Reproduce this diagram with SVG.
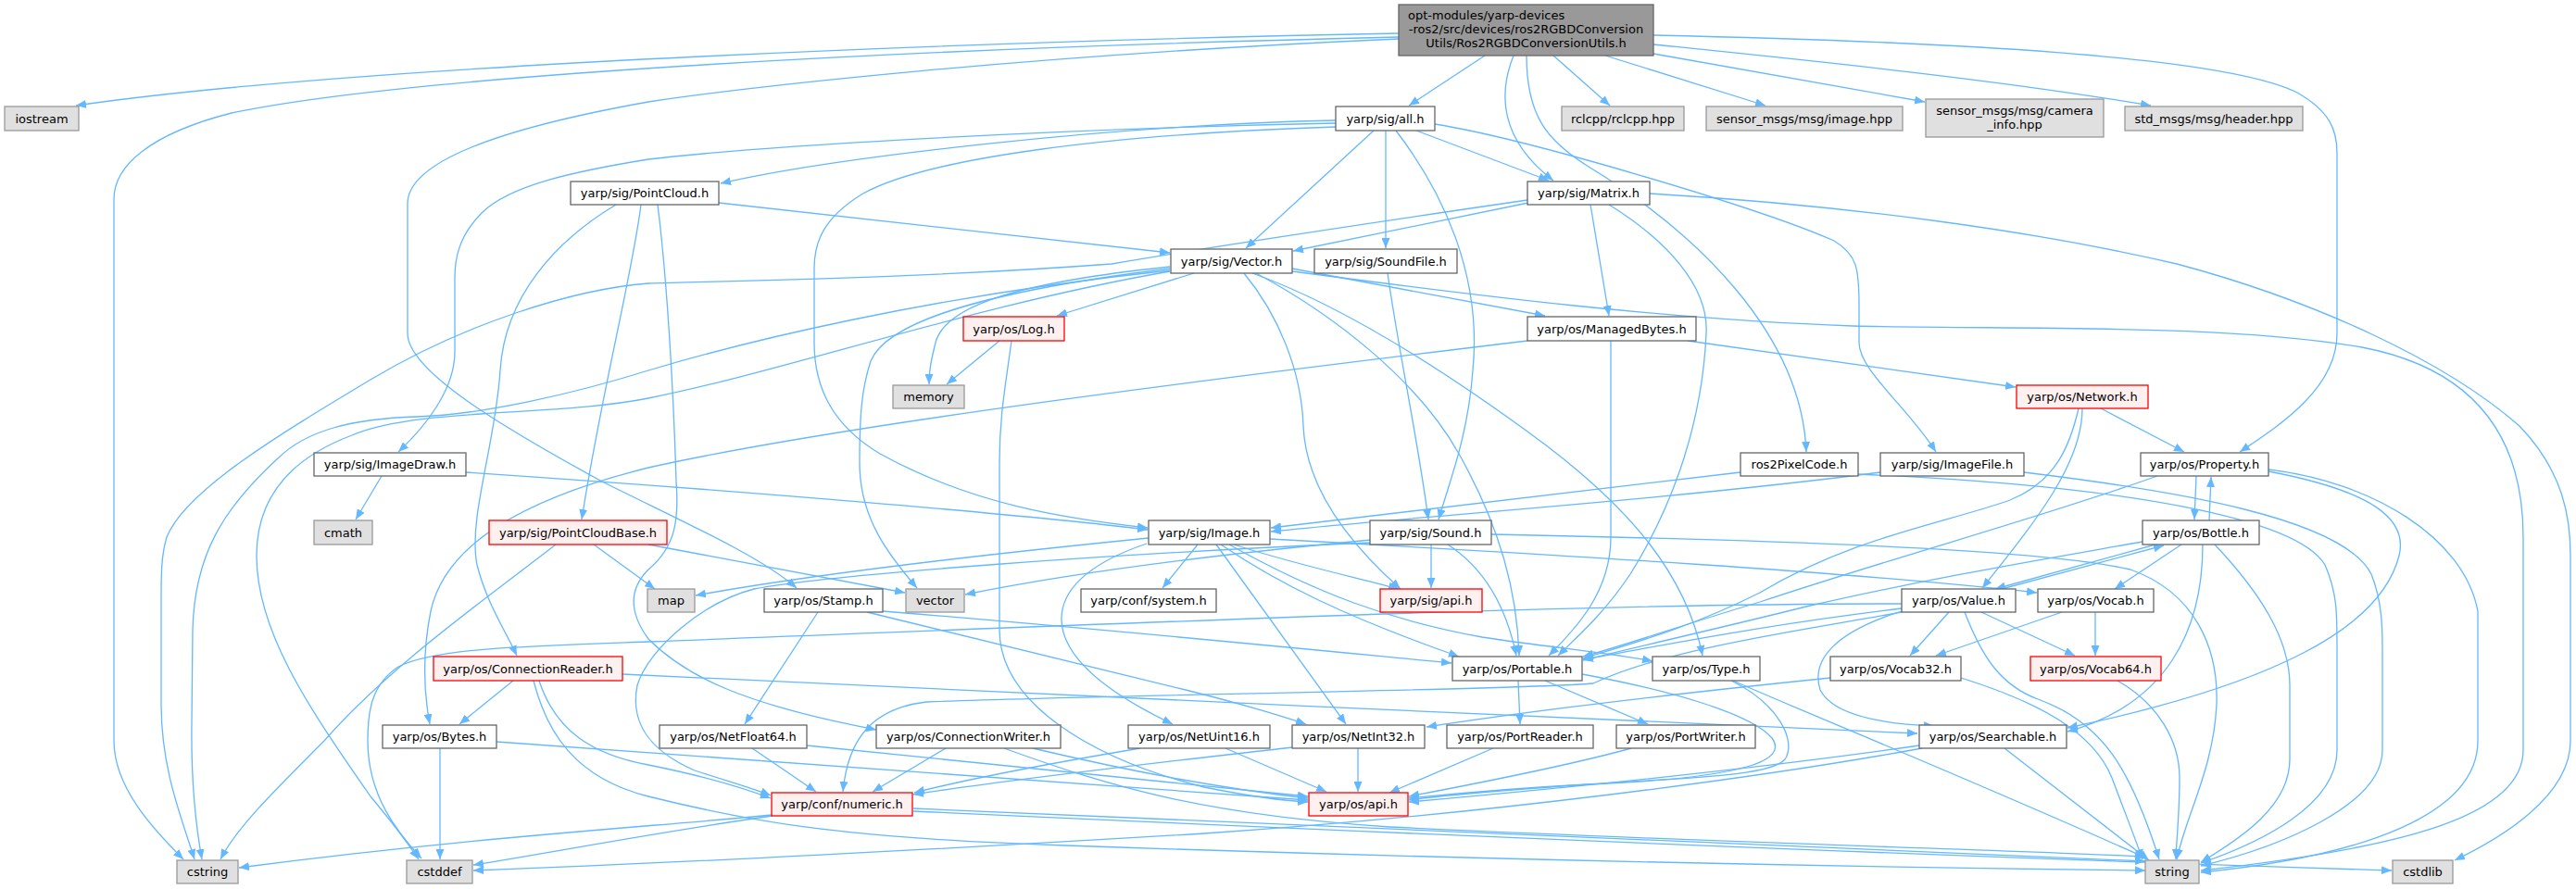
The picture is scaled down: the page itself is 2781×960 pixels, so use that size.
<svg xmlns="http://www.w3.org/2000/svg" width="2781" height="960" viewBox="0 0 2781 960">
<style>
text{font-family:"DejaVu Sans","Liberation Sans",sans-serif;font-size:13px;text-anchor:middle;fill:#000}
.n rect{fill:#fff;stroke:#666;stroke-width:1.3}
.g rect{fill:#e0e0e0;stroke:#999;stroke-width:1.3}
.r rect{fill:#fff0f0;stroke:#f00;stroke-width:1.3}
.root rect{fill:#999;stroke:#666;stroke-width:1.3}
#edges path{fill:none;stroke:#63b8ff;stroke-width:1.3;marker-end:url(#a)}
</style>
<defs>
<marker id="a" markerUnits="userSpaceOnUse" markerWidth="11" markerHeight="9" refX="11" refY="4.5" orient="auto">
<path d="M0,0 L11,4.5 L0,9 z" fill="#63b8ff"/>
</marker>
</defs>
<rect width="2781" height="960" fill="#fff"/>
<g id="edges">
<path d="M1510,36 C1100,44 400,68 82,114"/>
<path d="M1510,40 C1000,52 450,80 250,122 C160,145 123,180 123,215 L123,800 C123,850 165,895 198,928"/>
<path d="M1603,60 L1521,114"/>
<path d="M1634,60 C1618,100 1618,150 1677,195"/>
<path d="M1648,60 C1648,125 1670,152 1715,180 C1830,250 1945,360 1950,488"/>
<path d="M1677,60 L1738,114"/>
<path d="M1733,60 L1906,114"/>
<path d="M1785,58 L2078,110"/>
<path d="M1785,48 C1950,65 2150,85 2322,114"/>
<path d="M1785,38 C2100,45 2400,60 2480,100 C2515,120 2523,140 2523,165 L2523,360 C2523,420 2460,460 2418,488"/>
<path d="M1510,42 C1100,60 800,95 700,110 C560,135 440,170 440,220 L440,360 C440,400 540,460 650,520 C740,565 820,600 860,635"/>
<path d="M1483,141 L1345,268"/>
<path d="M1496,141 L1496,268"/>
<path d="M1507,141 C1560,210 1600,300 1590,400 C1585,470 1565,520 1553,561"/>
<path d="M1529,141 L1672,195"/>
<path d="M1442,130 C1200,135 900,170 778,198"/>
<path d="M1442,133 C1100,140 800,160 700,172 C620,185 550,200 520,230 C495,255 491,280 491,300 L491,380 C491,420 460,460 430,488"/>
<path d="M1442,137 C1200,145 1000,170 930,210 C890,235 879,260 879,290 L879,370 C879,420 900,460 950,490 C1050,545 1150,560 1239,570"/>
<path d="M1549,134 C1650,150 1900,225 1980,260 C2005,275 2007,290 2007,330 L2007,370 C2007,400 2060,440 2090,488"/>
<path d="M1650,219 L1396,271"/>
<path d="M1649,216 C1450,245 1300,268 1200,285 C1000,300 800,303 700,306 C620,312 500,350 400,410 C300,470 200,530 180,580 C174,600 174,620 174,650 L174,760 C174,830 195,880 210,928"/>
<path d="M1717,221 L1737,341"/>
<path d="M1737,221 C1800,260 1845,310 1842,360 C1838,450 1810,540 1760,620 C1730,665 1700,690 1682,708"/>
<path d="M1781,209 C2000,222 2200,250 2350,285 C2500,325 2640,390 2720,460 C2768,510 2775,560 2775,600 L2775,800 C2775,860 2700,905 2650,929"/>
<path d="M776,219 L1263,273"/>
<path d="M665,221 C600,260 545,320 540,400 C535,480 505,560 515,610 C525,650 545,680 558,708"/>
<path d="M692,221 C682,300 650,420 628,561"/>
<path d="M710,221 C720,300 727,420 730,520 C733,560 730,590 700,615 C680,635 678,660 700,690 C740,730 800,760 946,788"/>
<path d="M1289,295 L1141,341"/>
<path d="M1263,288 C1100,305 1020,330 1010,370 C1005,390 1003,400 1003,415"/>
<path d="M1263,290 C1100,310 960,340 940,390 C930,420 928,450 928,500 C928,560 960,600 990,635"/>
<path d="M1263,292 C1000,320 800,370 700,400 C620,425 520,448 450,450 C380,452 330,465 300,495 C240,550 210,600 208,680 L207,780 C206,850 212,895 218,928"/>
<path d="M1263,293 C1050,330 850,400 700,430 C600,450 450,440 380,470 C300,500 277,550 277,600 C277,680 330,760 400,860 C425,890 440,910 452,928"/>
<path d="M1395,290 L1668,341"/>
<path d="M1395,293 C1600,320 1800,345 2000,352 C2200,356 2400,350 2550,375 C2680,400 2724,480 2724,580 L2724,810 C2724,880 2600,915 2376,940"/>
<path d="M1352,295 C1450,330 1560,400 1668,480 C1760,550 1820,620 1838,708"/>
<path d="M1356,295 C1440,340 1530,410 1575,490 C1620,570 1638,640 1640,708"/>
<path d="M1343,295 C1380,340 1405,400 1407,460 C1410,530 1460,590 1512,636"/>
<path d="M1498,295 C1510,380 1530,470 1542,561"/>
<path d="M1649,368 C1300,410 900,460 700,505 C560,540 480,590 465,660 C455,710 458,750 464,782"/>
<path d="M1739,368 L1739,580 C1739,640 1700,680 1672,708"/>
<path d="M1822,368 L2176,418"/>
<path d="M1079,368 L1022,415"/>
<path d="M1092,368 C1085,420 1079,450 1079,500 L1079,680 C1079,760 1180,820 1300,850 C1350,860 1390,865 1412,866"/>
<path d="M2268,441 L2358,488"/>
<path d="M2248,441 C2248,500 2200,560 2140,635"/>
<path d="M2244,441 C2235,480 2220,520 2170,540 C2100,565 2000,580 1900,640 C1820,680 1760,695 1709,711"/>
<path d="M2371,514 L2369,561"/>
<path d="M2449,507 C2560,520 2660,580 2675,660 L2675,800 C2675,880 2550,925 2376,942"/>
<path d="M2449,509 C2560,530 2600,560 2590,600 C2570,680 2450,740 2232,786"/>
<path d="M2329,514 C2200,560 2050,600 1900,650 C1800,680 1760,695 1709,709"/>
<path d="M2385,562 L2387,515"/>
<path d="M2327,588 L2154,636"/>
<path d="M2355,588 L2283,636"/>
<path d="M2378,588 C2378,680 2340,760 2232,790"/>
<path d="M2391,588 C2440,640 2472,690 2472,740 L2472,820 C2472,870 2420,905 2376,931"/>
<path d="M2313,585 C2200,605 2080,625 1950,655 C1850,680 1760,700 1709,713"/>
<path d="M2161,636 L2336,589"/>
<path d="M2104,661 L2062,708"/>
<path d="M2139,661 L2240,708"/>
<path d="M2121,661 C2140,710 2160,740 2200,755 C2270,780 2300,830 2331,928"/>
<path d="M2053,660 C1980,683 1955,713 1965,745 C1980,775 2040,782 2088,784"/>
<path d="M2053,657 C1900,675 1780,700 1709,712"/>
<path d="M2053,652 C1700,652 1300,670 700,693 C560,698 470,700 430,720 C400,740 397,770 397,800 C397,860 430,900 455,927"/>
<path d="M2053,661 C1950,680 1800,700 1720,738 C1650,745 1200,750 1000,758 C940,765 915,800 910,855"/>
<path d="M2226,661 L2090,708"/>
<path d="M2262,661 L2262,708"/>
<path d="M2286,735 C2330,760 2353,800 2353,840 C2353,880 2350,900 2349,928"/>
<path d="M1976,732 C1800,750 1650,768 1540,785"/>
<path d="M2117,732 C2200,758 2260,790 2280,840 C2295,880 2305,905 2313,928"/>
<path d="M2164,808 L2320,929"/>
<path d="M2072,805 C1900,830 1700,850 1521,866"/>
<path d="M2075,808 C1900,840 1600,880 1300,900 C1000,918 700,933 511,940"/>
<path d="M1639,735 L1641,782"/>
<path d="M1668,735 L1779,782"/>
<path d="M1708,728 C1800,745 1890,770 1913,797 C1930,820 1890,840 1713,847 C1620,852 1560,858 1521,862"/>
<path d="M1869,735 C1920,760 1940,800 1927,820 C1910,840 1802,840 1700,848 C1600,855 1550,860 1521,864"/>
<path d="M1871,735 C1950,770 2100,830 2316,926"/>
<path d="M1612,808 L1500,856"/>
<path d="M1761,808 C1700,825 1600,845 1521,860"/>
<path d="M1395,807 C1300,818 1100,840 986,858"/>
<path d="M1466,808 L1466,855"/>
<path d="M1231,808 C1100,830 1030,845 987,856"/>
<path d="M1323,808 L1432,855"/>
<path d="M812,808 L881,855"/>
<path d="M871,805 C1100,830 1300,850 1412,860"/>
<path d="M1021,808 L942,855"/>
<path d="M1115,808 C1250,840 1350,855 1412,862"/>
<path d="M1084,808 C1200,850 1300,880 1500,893 C1900,912 2100,915 2316,925"/>
<path d="M554,735 L496,782"/>
<path d="M582,735 C600,790 640,815 700,826 C760,838 800,850 832,862"/>
<path d="M576,735 C590,790 620,840 700,860 C800,885 900,905 1150,913 C1500,925 1900,935 2316,940"/>
<path d="M672,728 C1000,745 1700,775 2070,792"/>
<path d="M536,801 C900,825 1200,850 1412,864"/>
<path d="M475,808 L475,928"/>
<path d="M834,880 C700,893 500,905 258,937"/>
<path d="M834,881 C700,900 600,920 511,934"/>
<path d="M986,873 C1300,888 1800,910 2316,930"/>
<path d="M986,876 C1400,895 2000,922 2582,940"/>
<path d="M883,661 L804,782"/>
<path d="M936,661 L1280,745 C1340,760 1380,772 1410,782"/>
<path d="M953,660 C1200,680 1400,700 1567,716"/>
<path d="M1240,581 C1000,605 850,625 751,643"/>
<path d="M1293,588 L1255,635"/>
<path d="M1238,587 C1170,610 1145,640 1146,670 C1148,720 1220,760 1266,782"/>
<path d="M1313,588 L1453,782"/>
<path d="M1318,588 C1380,630 1450,665 1575,709"/>
<path d="M1332,588 C1400,610 1470,625 1510,636"/>
<path d="M1327,588 C1420,640 1500,670 1600,688 C1680,700 1740,705 1784,714"/>
<path d="M1371,582 C1700,600 2000,618 2199,640"/>
<path d="M1545,588 L1545,635"/>
<path d="M1563,588 C1600,612 1625,650 1637,708"/>
<path d="M1480,583 C1300,600 1150,620 1042,642"/>
<path d="M1480,586 C1200,598 900,620 814,636 C760,650 700,700 688,740 C680,780 700,810 750,832 C790,845 815,852 832,859"/>
<path d="M1610,577 C1900,583 2200,592 2300,615 C2370,640 2395,700 2393,760 C2390,830 2360,880 2350,928"/>
<path d="M503,510 C800,530 1100,555 1239,572"/>
<path d="M412,514 L384,561"/>
<path d="M1879,510 L1372,570"/>
<path d="M2006,512 C2300,525 2480,560 2510,610 C2523,640 2523,660 2523,700 L2523,810 C2523,870 2440,910 2376,932"/>
<path d="M2030,510 C1800,540 1500,560 1372,574"/>
<path d="M2185,510 C2350,530 2530,560 2560,620 C2572,650 2572,680 2572,700 L2572,810 C2572,870 2460,915 2376,935"/>
<path d="M600,588 C520,650 420,720 350,800 C290,860 255,895 238,928"/>
<path d="M641,588 L707,636"/>
<path d="M700,588 L977,640"/>
</g>
<g id="root" class="root"><rect x="1510" y="5" width="275" height="55"/><text x="1520" y="20.5" style="text-anchor:start">opt-modules/yarp-devices</text><text x="1647.5" y="35.5">-ros2/src/devices/ros2RGBDConversion</text><text x="1647.5" y="50.5">Utils/Ros2RGBDConversionUtils.h</text></g>
<g id="iostream" class="g"><rect x="5" y="115" width="80" height="26"/><text x="45" y="132.5">iostream</text></g>
<g id="sig_all" class="n"><rect x="1442" y="115" width="107" height="26"/><text x="1495.5" y="132.5">yarp/sig/all.h</text></g>
<g id="rclcpp" class="g"><rect x="1686" y="115" width="132" height="26"/><text x="1752" y="132.5">rclcpp/rclcpp.hpp</text></g>
<g id="sensor_image" class="g"><rect x="1842" y="115" width="212" height="26"/><text x="1948" y="132.5">sensor_msgs/msg/image.hpp</text></g>
<g id="sensor_camera" class="g"><rect x="2079" y="107" width="192" height="41"/><text x="2175" y="124">sensor_msgs/msg/camera</text><text x="2175" y="139">_info.hpp</text></g>
<g id="std_header" class="g"><rect x="2294" y="115" width="192" height="26"/><text x="2390" y="132.5">std_msgs/msg/header.hpp</text></g>
<g id="PointCloud" class="n"><rect x="616" y="196" width="160" height="25"/><text x="696" y="213">yarp/sig/PointCloud.h</text></g>
<g id="Matrix" class="n"><rect x="1649" y="196" width="132" height="25"/><text x="1715" y="213">yarp/sig/Matrix.h</text></g>
<g id="Vector" class="n"><rect x="1264" y="269" width="131" height="26"/><text x="1329.5" y="286.5">yarp/sig/Vector.h</text></g>
<g id="SoundFile" class="n"><rect x="1419" y="269" width="154" height="26"/><text x="1496" y="286.5">yarp/sig/SoundFile.h</text></g>
<g id="Log" class="r"><rect x="1040" y="342" width="109" height="26"/><text x="1094.5" y="359.5">yarp/os/Log.h</text></g>
<g id="ManagedBytes" class="n"><rect x="1649" y="342" width="182" height="26"/><text x="1740" y="359.5">yarp/os/ManagedBytes.h</text></g>
<g id="memory" class="g"><rect x="964" y="416" width="77" height="25"/><text x="1002.5" y="433">memory</text></g>
<g id="Network" class="r"><rect x="2177" y="416" width="142" height="25"/><text x="2248" y="433">yarp/os/Network.h</text></g>
<g id="ImageDraw" class="n"><rect x="339" y="489" width="164" height="25"/><text x="421" y="506">yarp/sig/ImageDraw.h</text></g>
<g id="ros2PixelCode" class="n"><rect x="1879" y="489" width="127" height="25"/><text x="1942.5" y="506">ros2PixelCode.h</text></g>
<g id="ImageFile" class="n"><rect x="2030" y="489" width="155" height="25"/><text x="2107.5" y="506">yarp/sig/ImageFile.h</text></g>
<g id="Property" class="n"><rect x="2311" y="489" width="138" height="25"/><text x="2380" y="506">yarp/os/Property.h</text></g>
<g id="cmath" class="g"><rect x="339" y="562" width="63" height="26"/><text x="370.5" y="579.5">cmath</text></g>
<g id="PointCloudBase" class="r"><rect x="528" y="562" width="192" height="26"/><text x="624" y="579.5">yarp/sig/PointCloudBase.h</text></g>
<g id="Image" class="n"><rect x="1240" y="562" width="131" height="26"/><text x="1305.5" y="579.5">yarp/sig/Image.h</text></g>
<g id="Sound" class="n"><rect x="1479" y="562" width="131" height="26"/><text x="1544.5" y="579.5">yarp/sig/Sound.h</text></g>
<g id="Bottle" class="n"><rect x="2313" y="562" width="126" height="26"/><text x="2376" y="579.5">yarp/os/Bottle.h</text></g>
<g id="map" class="g"><rect x="699" y="636" width="51" height="25"/><text x="724.5" y="653">map</text></g>
<g id="Stamp" class="n"><rect x="825" y="636" width="128" height="25"/><text x="889" y="653">yarp/os/Stamp.h</text></g>
<g id="vector" class="g"><rect x="978" y="636" width="63" height="25"/><text x="1009.5" y="653">vector</text></g>
<g id="conf_system" class="n"><rect x="1167" y="636" width="146" height="25"/><text x="1240" y="653">yarp/conf/system.h</text></g>
<g id="sig_api" class="r"><rect x="1490" y="636" width="110" height="25"/><text x="1545" y="653">yarp/sig/api.h</text></g>
<g id="Value" class="n"><rect x="2053" y="636" width="123" height="25"/><text x="2114.5" y="653">yarp/os/Value.h</text></g>
<g id="Vocab" class="n"><rect x="2200" y="636" width="125" height="25"/><text x="2262.5" y="653">yarp/os/Vocab.h</text></g>
<g id="ConnectionReader" class="r"><rect x="468" y="709" width="204" height="26"/><text x="570" y="726.5">yarp/os/ConnectionReader.h</text></g>
<g id="Portable" class="n"><rect x="1568" y="709" width="140" height="26"/><text x="1638" y="726.5">yarp/os/Portable.h</text></g>
<g id="Type" class="n"><rect x="1784" y="709" width="116" height="26"/><text x="1842" y="726.5">yarp/os/Type.h</text></g>
<g id="Vocab32" class="n"><rect x="1976" y="709" width="141" height="26"/><text x="2046.5" y="726.5">yarp/os/Vocab32.h</text></g>
<g id="Vocab64" class="r"><rect x="2192" y="709" width="141" height="26"/><text x="2262.5" y="726.5">yarp/os/Vocab64.h</text></g>
<g id="Bytes" class="n"><rect x="413" y="783" width="123" height="25"/><text x="474.5" y="800">yarp/os/Bytes.h</text></g>
<g id="NetFloat64" class="n"><rect x="712" y="783" width="159" height="25"/><text x="791.5" y="800">yarp/os/NetFloat64.h</text></g>
<g id="ConnectionWriter" class="n"><rect x="946" y="783" width="199" height="25"/><text x="1045.5" y="800">yarp/os/ConnectionWriter.h</text></g>
<g id="NetUint16" class="n"><rect x="1218" y="783" width="153" height="25"/><text x="1294.5" y="800">yarp/os/NetUint16.h</text></g>
<g id="NetInt32" class="n"><rect x="1395" y="783" width="143" height="25"/><text x="1466.5" y="800">yarp/os/NetInt32.h</text></g>
<g id="PortReader" class="n"><rect x="1562" y="783" width="158" height="25"/><text x="1641" y="800">yarp/os/PortReader.h</text></g>
<g id="PortWriter" class="n"><rect x="1745" y="783" width="150" height="25"/><text x="1820" y="800">yarp/os/PortWriter.h</text></g>
<g id="Searchable" class="n"><rect x="2072" y="783" width="159" height="25"/><text x="2151.5" y="800">yarp/os/Searchable.h</text></g>
<g id="numeric" class="r"><rect x="833" y="856" width="152" height="25"/><text x="909" y="873">yarp/conf/numeric.h</text></g>
<g id="os_api" class="r"><rect x="1413" y="856" width="107" height="25"/><text x="1466.5" y="873">yarp/os/api.h</text></g>
<g id="cstring" class="g"><rect x="191" y="929" width="66" height="25"/><text x="224" y="946">cstring</text></g>
<g id="cstddef" class="g"><rect x="439" y="929" width="71" height="25"/><text x="474.5" y="946">cstddef</text></g>
<g id="string" class="g"><rect x="2316" y="929" width="58" height="25"/><text x="2345" y="946">string</text></g>
<g id="cstdlib" class="g"><rect x="2583" y="929" width="65" height="25"/><text x="2615.5" y="946">cstdlib</text></g>
</svg>
